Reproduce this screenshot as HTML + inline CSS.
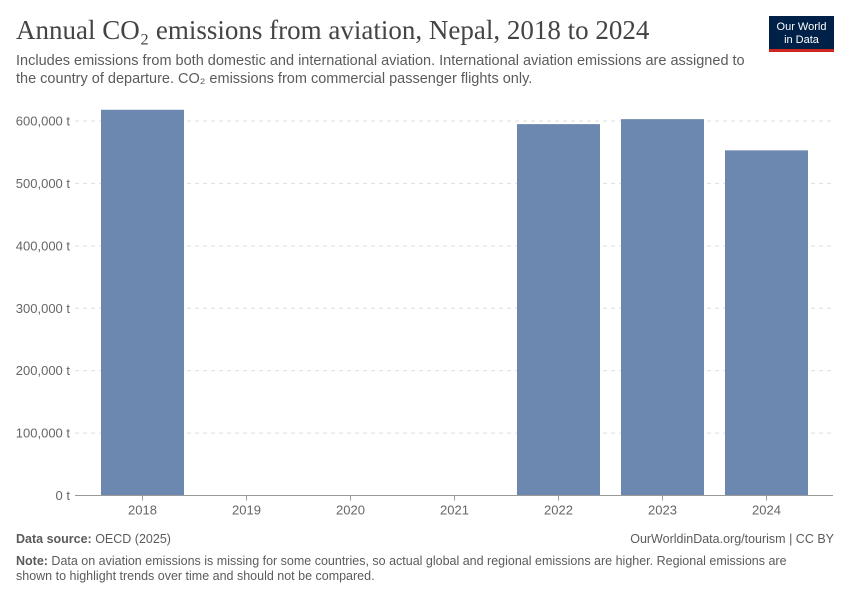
<!DOCTYPE html>
<html><head><meta charset="utf-8"><style>
body{margin:0;width:850px;height:600px;background:#fff;font-family:"Liberation Sans",sans-serif;overflow:hidden;position:relative}
.t{position:absolute;margin:0}
</style></head><body>
<h1 class="t" style="left:16px;top:15px;font-family:'Liberation Serif',serif;font-weight:normal;font-size:27px;color:#444">Annual CO₂ emissions from aviation, Nepal, 2018 to 2024</h1>
<p class="t" style="left:16px;top:52px;width:740px;font-size:14.5px;line-height:18px;color:#5b5b5b">Includes emissions from both domestic and international aviation. International aviation emissions are assigned to the country of departure. CO₂ emissions from commercial passenger flights only.</p>
<div style="position:absolute;left:769px;top:16px;width:65px;height:36px;background:#002147;border-bottom:3px solid #ce261e;color:#fff;font-size:11px;line-height:13px;text-align:center;padding-top:5px;box-sizing:border-box">Our World<br>in Data</div>
<svg id="c" width="850" height="600" style="position:absolute;left:0;top:0"></svg>
<p class="t" style="left:16px;top:532px;font-size:12.5px;color:#5b5b5b"><b>Data source:</b> OECD (2025)</p>
<p class="t" style="right:16px;top:532px;font-size:12.5px;color:#5b5b5b">OurWorldinData.org/tourism | CC BY</p>
<p class="t" style="left:16px;top:554px;width:800px;font-size:12.5px;line-height:15px;color:#5b5b5b"><b>Note:</b> Data on aviation emissions is missing for some countries, so actual global and regional emissions are higher. Regional emissions are shown to highlight trends over time and should not be compared.</p>
<script>
const years=["2018","2019","2020","2021","2022","2023","2024"];
const values=[618000,null,null,null,595000,603000,553000];
const ticks=[0,100000,200000,300000,400000,500000,600000];
const tickLabels=["0 t","100,000 t","200,000 t","300,000 t","400,000 t","500,000 t","600,000 t"];
const svg=document.getElementById('c');const NS="http://www.w3.org/2000/svg";
const y0=495.5,yTop=121,left=90.5,band=104,x0=75,x1=833;
const y=v=>y0-(v/600000)*(y0-yTop);
const x=i=>left+i*band;
function mk(t,a,p){const e=document.createElementNS(NS,t);for(const k in a)e.setAttribute(k,a[k]);(p||svg).appendChild(e);return e;}
ticks.forEach((v,i)=>{
 if(v>0){const l=mk('line',{x1:x0,x2:x1,y1:y(v),y2:y(v),stroke:'#ddd','stroke-dasharray':'4,4'});
 
 }
 const t=mk('text',{x:70,y:y(v)+4.5,'text-anchor':'end','font-size':13,fill:'#666','font-family':'Liberation Sans,sans-serif'});t.textContent=tickLabels[i];
 
 
});
values.forEach((v,i)=>{
 if(v!=null){const r=mk('rect',{x:x(i)+10.5,y:y(v),width:83,height:y0-y(v),fill:'#6d88b0'});
 
 }
 mk('line',{x1:x(i)+52,x2:x(i)+52,y1:y0,y2:y0+5,stroke:'#999'});
 const t=mk('text',{x:x(i)+52,y:y0+19,'text-anchor':'middle','font-size':13,fill:'#666','font-family':'Liberation Sans,sans-serif'});t.textContent=years[i];
 
 
});
const ax=mk('line',{x1:x0,x2:x1,y1:y0,y2:y0,stroke:'#999'});


</script>
</body></html>
